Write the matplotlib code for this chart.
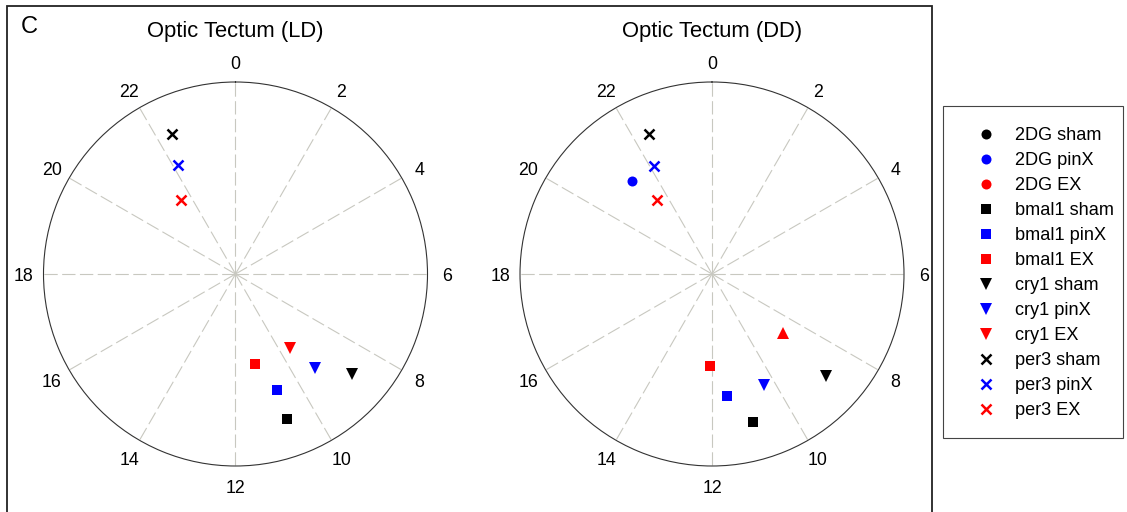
import numpy as np
import matplotlib
matplotlib.use('Agg')
import matplotlib.pyplot as plt
import matplotlib.transforms as mtransforms
from matplotlib.lines import Line2D
from matplotlib.patches import Rectangle

plt.rcParams['font.family'] = ['Liberation Sans', 'DejaVu Sans']

# phase (hours) and amplitude level for each series, per panel
hour_ticks = list(range(0, 24, 2))

ld_labels = ['per3 sham', 'per3 pinX', 'per3 EX',
             'cry1 EX', 'bmal1 EX', 'cry1 pinX',
             'cry1 sham', 'bmal1 pinX', 'bmal1 sham']
ld_hours = [22.37, 22.15, 21.57, 9.57, 11.17, 9.31, 8.71, 10.67, 10.70]
ld_amp = [1.0, 0.8, 0.6, 0.6, 0.6, 0.8, 1.0, 0.8, 1.0]

dd_labels = ['per3 sham', 'per3 pinX', '2DG pinX', 'per3 EX',
             'cry1 EX', 'bmal1 EX', 'cry1 sham', 'cry1 pinX',
             'bmal1 pinX', 'bmal1 sham']
dd_hours = [22.38, 22.12, 21.30, 21.55, 8.66, 12.07, 8.79, 10.33, 11.53, 10.97]
dd_amp = [1.0, 0.8, 0.8, 0.6, 0.6, 0.6, 1.0, 0.8, 0.8, 1.0]

legend_labels = ['2DG sham', '2DG pinX', '2DG EX',
                 'bmal1 sham', 'bmal1 pinX', 'bmal1 EX',
                 'cry1 sham', 'cry1 pinX', 'cry1 EX',
                 'per3 sham', 'per3 pinX', 'per3 EX']

colors = {'sham': 'black', 'pinX': '#0000ff', 'EX': '#ff0000'}
markers = {'2DG': 'o', 'bmal1': 's', 'cry1': 'v', 'per3': 'x'}

R_MAX = 1.25


def style(label, override=None):
    gene, cond = label.split(' ')
    m = override or markers[gene]
    kw = dict(marker=m, color=colors[cond], linestyle='none')
    if m == 'x':
        kw.update(markersize=7, markeredgewidth=1.8)
    elif m == 's':
        kw.update(markersize=7, markeredgewidth=0)
    elif m == 'o':
        kw.update(markersize=7.2, markeredgewidth=0)
    else:
        kw.update(markersize=8, markeredgewidth=0)
    return kw


fig = plt.figure(figsize=(11.27, 5.12), dpi=100)

# outer panel frame
fig.patches.append(Rectangle((7 / 1127, -0.1), (932 - 7) / 1127, 1.1 - 6 / 512,
                             transform=fig.transFigure, fill=False,
                             edgecolor='#222222', linewidth=1.3))
# legend box
fig.patches.append(Rectangle((943 / 1127, 1 - 438 / 512), 180 / 1127, (438 - 106) / 512,
                             transform=fig.transFigure, fill=False,
                             edgecolor='#444444', linewidth=0.8))

fig.text(21 / 1127, 1 - 27 / 512, 'C', fontsize=17, va='center', ha='left')

panels = [
    ('Optic Tectum (LD)', 43.5, ld_labels, ld_hours, ld_amp, {}),
    ('Optic Tectum (DD)', 520, dd_labels, dd_hours, dd_amp, {'cry1 EX': '^'}),
]

# nudge hour labels down a little so the digits sit centred on their anchor
label_shift = mtransforms.ScaledTranslation(0, -0.025, fig.dpi_scale_trans)

for title, x0, labels, hours, amps, overrides in panels:
    ax = fig.add_axes([x0 / 1127, (512 - 466) / 512, 384 / 1127, 384 / 512],
                      projection='polar')
    ax.set_theta_zero_location('N')
    ax.set_theta_direction(-1)
    ax.set_ylim(0, R_MAX)
    ax.set_yticks([])
    ax.set_xticks(np.deg2rad([h * 15 for h in hour_ticks]))
    ax.set_xticklabels([])
    ax.xaxis.grid(True, color='#c8c8c0', linestyle=(0, (12, 4)), linewidth=0.8)
    ax.tick_params(axis='x', direction='out', length=3, width=0.8, color='#333333')
    ax.spines['polar'].set_linewidth(0.8)
    ax.spines['polar'].set_color('#333333')
    # hour labels, centred a fixed distance outside the rim
    for h in hour_ticks:
        ax.text(np.deg2rad(h * 15), R_MAX * 212 / 192, str(h), fontsize=12.8,
                ha='center', va='center', clip_on=False,
                transform=ax.transData + label_shift)
    for lab, h, a in zip(labels, hours, amps):
        ax.plot(h / 24 * 2 * np.pi, a, **style(lab, overrides.get(lab)))
    fig.text((x0 + 192) / 1127, 1 - 31 / 512, title, fontsize=15.8,
             ha='center', va='center')

handles = [Line2D([], [], **style(l)) for l in legend_labels]
fig.legend(handles, legend_labels, loc='upper left',
           bbox_to_anchor=(968 / 1127, 1 - 127 / 512), frameon=False,
           fontsize=13.1, borderpad=0, borderaxespad=0, labelspacing=0.44,
           handlelength=2.0, handletextpad=0.58)

fig.savefig('out.png', dpi=100)
